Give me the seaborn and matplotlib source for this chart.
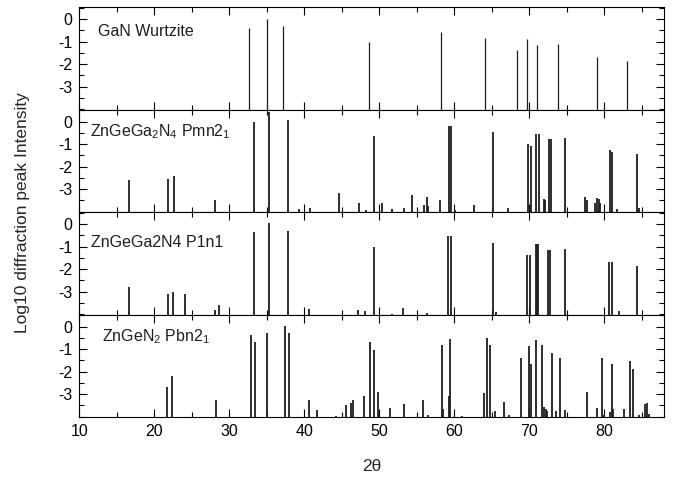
import matplotlib
matplotlib.use("Agg")
import matplotlib.pyplot as plt
from matplotlib.ticker import MultipleLocator
import numpy as np
import pandas as pd
import seaborn as sns

# Peak positions (2theta, degrees) and log10 relative intensities per phase
gan_x = [32.67, 34.98, 37.11, 48.58, 58.18, 64.09, 68.32, 69.69, 71.03, 73.87, 79.07, 83.03]
gan_y = [-0.39, 0.0, -0.31, -1.01, -0.55, -0.84, -1.38, -0.90, -1.16, -1.11, -1.67, -1.85]

pmn_x = [16.58, 21.82, 22.62, 28.09, 33.29, 35.33, 37.82, 39.29, 40.71, 44.58, 47.24, 48.22,
         49.33, 50.36, 51.69, 53.25, 54.36, 55.96, 56.36, 56.54, 58.09, 59.29, 59.56, 60.09,
         62.63, 65.12, 67.12, 69.78, 70.18, 70.94, 71.25, 71.92, 72.09, 72.58, 72.89, 74.80,
         77.43, 77.69, 78.80, 79.03, 79.25, 79.47, 80.72, 81.03, 81.65, 84.36, 84.58]
pmn_y = [-2.59, -2.53, -2.40, -3.47, 0.0, 0.41, 0.06, -3.88, -3.84, -3.17, -3.63, -3.94,
         -0.62, -3.60, -3.90, -3.82, -3.26, -3.70, -3.36, -3.73, -3.50, -0.18, -0.18, -3.91,
         -3.70, -0.44, -3.85, -0.99, -1.07, -0.53, -0.53, -3.45, -3.48, -0.77, -0.77, -0.73,
         -3.36, -3.48, -3.60, -3.41, -3.44, -3.60, -1.27, -1.35, -3.88, -1.45, -3.82]

p1n1_x = [16.58, 21.78, 22.53, 24.09, 28.05, 28.58, 33.29, 35.33, 37.82, 40.67, 47.16, 48.13,
          49.29, 51.65, 53.20, 56.32, 59.20, 59.52, 65.12, 65.56, 69.69, 70.05, 70.85, 71.00,
          71.15, 72.45, 72.80, 74.76, 80.63, 80.98, 81.92, 84.32]
p1n1_y = [-2.81, -3.11, -3.01, -3.11, -3.82, -3.57, -0.37, 0.03, -0.31, -3.76, -3.81, -3.88,
          -1.01, -3.97, -3.72, -3.94, -0.55, -0.55, -0.83, -3.91, -1.39, -1.39, -0.90, -0.90,
          -0.90, -1.16, -1.16, -1.10, -1.67, -1.67, -3.87, -1.85]

pbn_x = [21.73, 22.36, 28.22, 32.85, 33.42, 35.07, 37.38, 37.96, 40.58, 41.65, 44.27, 45.56,
         46.18, 46.53, 47.91, 48.80, 49.24, 49.76, 51.47, 53.29, 55.78, 56.45, 58.36, 58.54,
         59.25, 59.42, 61.03, 63.92, 64.40, 64.80, 65.38, 66.63, 67.25, 68.89, 69.92, 70.23,
         70.89, 71.65, 72.00, 72.18, 72.40, 72.98, 73.52, 74.09, 74.76, 77.69, 79.07, 79.69,
         79.96, 80.80, 80.98, 81.16, 82.67, 83.43, 83.78, 84.58, 85.47, 85.69, 85.92]
pbn_y = [-2.68, -2.21, -3.27, -0.36, -0.70, -0.27, 0.01, -0.30, -3.27, -3.70, -3.96, -3.47,
         -3.39, -3.27, -3.08, -0.68, -1.04, -2.89, -3.60, -3.42, -3.24, -3.93, -0.81, -3.67,
         -3.10, -0.55, -3.97, -2.96, -0.52, -0.81, -3.75, -3.35, -3.94, -1.38, -0.87, -1.67,
         -0.61, -0.81, -3.56, -3.67, -3.75, -1.17, -3.75, -1.39, -3.69, -2.90, -3.60, -1.38,
         -3.94, -3.79, -1.64, -3.67, -3.67, -1.53, -1.87, -3.93, -3.45, -3.41, -3.90]

phase_labels = ["GaN Wurtzite",
                "ZnGeGa$_2$N$_4$ Pmn2$_1$",
                "ZnGeGa2N4 P1n1",
                "ZnGeN$_2$ Pbn2$_1$"]
# label anchor (2theta, log intensity) inside each panel
label_pos = [(12.5, -0.56), (11.4, -0.44), (11.5, -0.81), (13.0, -0.46)]

x_ticks = [10, 20, 30, 40, 50, 60, 70, 80]
y_ticks = [0, -1, -2, -3]

Y_MIN, Y_MAX = -4.02, 0.53
X_MIN, X_MAX = 10, 88

peaks = pd.concat([
    pd.DataFrame({"two_theta": xs, "log_i": ys, "phase": lab})
    for xs, ys, lab in zip([gan_x, pmn_x, p1n1_x, pbn_x],
                           [gan_y, pmn_y, p1n1_y, pbn_y],
                           phase_labels)
], ignore_index=True)

sns.set_theme(style="ticks")
plt.rcParams.update({
    "font.family": ["Liberation Sans", "DejaVu Sans"],
    "mathtext.default": "regular",
    "axes.unicode_minus": False,
    "axes.linewidth": 0.8,
    "axes.edgecolor": "black",
    "xtick.direction": "in",
    "ytick.direction": "in",
    "xtick.color": "black",
    "ytick.color": "black",
    "xtick.labelsize": 11.5,
    "ytick.labelsize": 11.5,
})

g = sns.FacetGrid(peaks, row="phase", row_order=phase_labels, sharex=True, sharey=True,
                  height=1.2, aspect=5.6, despine=False)


def stick(data, **kws):
    ax = plt.gca()
    lw = 0.9 if data["phase"].iloc[0] == phase_labels[0] else 1.3
    ax.vlines(data["two_theta"], Y_MIN, data["log_i"], colors="#1e1e1e", linewidth=lw)


g.map_dataframe(stick)
g.set_titles("")
g.set_axis_labels("", "")

fig = g.figure
fig.set_size_inches(6.73, 4.80)
fig.set_dpi(100)
fig.subplots_adjust(left=0.118, right=0.987, top=0.985, bottom=0.131, hspace=0)

for ax, lab, (tx, ty) in zip(g.axes.flat, phase_labels, label_pos):
    ax.set_xlim(X_MIN, X_MAX)
    ax.set_ylim(Y_MIN, Y_MAX)
    ax.set_xticks(x_ticks)
    ax.set_yticks(y_ticks)
    ax.set_yticklabels([str(v) for v in y_ticks])
    ax.xaxis.set_minor_locator(MultipleLocator(5))
    ax.yaxis.set_minor_locator(MultipleLocator(0.5))
    ax.tick_params(which="major", length=6, width=0.8, top=True, right=True, pad=5)
    ax.tick_params(which="minor", length=3.5, width=0.8, top=True, right=True)
    ax.text(tx, ty, lab, fontsize=11.5, ha="left", va="center", color="#1e1e1e")

for ax in g.axes.flat[:-1]:
    ax.tick_params(labelbottom=False)

g.axes.flat[-1].set_xlabel("2\u03b8", fontsize=12.5, labelpad=14)
fig.text(0.033, 0.558, "Log10 diffraction peak Intensity", rotation=90,
         ha="center", va="center", fontsize=12.5)

fig.savefig("out.png", dpi=100)
